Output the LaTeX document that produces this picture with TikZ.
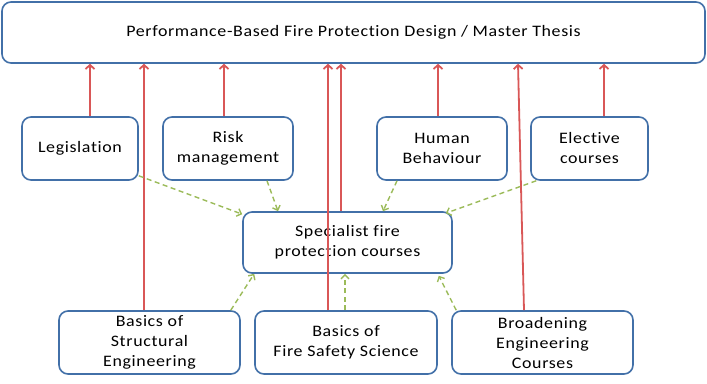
\documentclass[tikz,border=0pt]{standalone}
\usepackage{fontspec}
\setmainfont[FakeStretch=1.12, LetterSpace=4, Ligatures=NoCommon]{Carlito}
\usepackage{tikz}
\usetikzlibrary{arrows.meta, positioning, calc}
\definecolor{boxline}{HTML}{4270A8}
\definecolor{thesisred}{HTML}{D95757}
\definecolor{feedgreen}{HTML}{9BBB59}

\begin{document}
\begin{tikzpicture}[
  x=1pt, y=-1pt,
  font=\fontsize{16}{20}\selectfont,
  box/.style={rectangle, rounded corners=9pt, draw=boxline, line width=1.6pt, fill=white,
              align=center, inner sep=2pt},
  redarr/.style={-{Straight Barb[length=4pt, width=9pt]}, thesisred, line width=1.8pt},
  greenarr/.style={-{Straight Barb[length=4pt, width=8pt]}, feedgreen, line width=1.4pt,
                   dash pattern=on 5pt off 3.5pt}
]
  \useasboundingbox (0,0) rectangle (707,383);

  % top box
  \node[box, minimum width=703pt, minimum height=61pt] (thesis) at (353.5,32.5)
    {Performance-Based Fire Protection Design / Master Thesis};

  % second row
  \node[box, minimum width=116pt, minimum height=63pt] (legis) at (80,148.5) {Legislation};
  \node[box, minimum width=130pt, minimum height=63pt] (risk)  at (228,148.5) {Risk\\management};
  \node[box, minimum width=130pt, minimum height=63pt] (human) at (442,148.5) {Human\\Behaviour};
  \node[box, minimum width=117pt, minimum height=63pt] (elect) at (589.5,148.5) {Elective\\courses};

  % specialist box
  \node[box, minimum width=209pt, minimum height=61pt] (spec) at (347.5,242.5)
    {Specialist fire\\protection courses};

  % bottom row
  \node[box, minimum width=181pt, minimum height=63pt] (struct) at (149.5,342.5)
    {Basics of\\Structural\\Engineering};
  \node[box, minimum width=182pt, minimum height=63pt] (fss) at (346,342.5)
    {Basics of\\Fire Safety Science};
  \node[box, minimum width=181pt, minimum height=63pt] (broad) at (542.5,342.5)
    {Broadening\\Engineering\\Courses};

  % red arrows to the thesis
  \draw[redarr] ([xshift=10pt]legis.north) -- ([xshift=10pt]legis.north |- thesis.south);
  \draw[redarr] ([xshift=-4pt]risk.north) -- ([xshift=-4pt]risk.north |- thesis.south);
  \draw[redarr] ([xshift=-4pt]human.north) -- ([xshift=-4pt]human.north |- thesis.south);
  \draw[redarr] ([xshift=14.5pt]elect.north) -- ([xshift=14.5pt]elect.north |- thesis.south);
  \draw[redarr] ([xshift=-5.5pt]struct.north) -- ([xshift=-5.5pt]struct.north |- thesis.south);
  \draw[redarr] ([xshift=-18pt]fss.north) -- ([xshift=-18pt]fss.north |- thesis.south);
  \draw[redarr] ([xshift=-6.5pt]spec.north) -- ([xshift=-6.5pt]spec.north |- thesis.south);
  \draw[redarr] ([xshift=-18.5pt]broad.north) -- ([xshift=-24.5pt]broad.north |- thesis.south);

  % green dashed arrows into the specialist courses
  \draw[greenarr] ([yshift=5pt]legis.south east) -- ([yshift=-3pt]spec.north west);
  \draw[greenarr] ([xshift=39pt]risk.south) -- ([xshift=-69.5pt]spec.north);
  \draw[greenarr] ([xshift=-45pt]human.south) -- ([xshift=35.5pt]spec.north);
  \draw[greenarr] ([xshift=6pt]elect.south west) -- ([xshift=-7pt, yshift=-2pt]spec.north east);
  \draw[greenarr] ([xshift=-10pt]struct.north east) -- ([xshift=12pt]spec.south west);
  \draw[greenarr] ([xshift=-1pt]fss.north) -- ([xshift=-1pt]fss.north |- spec.south);
  \draw[greenarr] ([xshift=5pt]broad.north west) -- ([xshift=-14pt, yshift=-2pt]spec.south east);
\end{tikzpicture}
\end{document}
